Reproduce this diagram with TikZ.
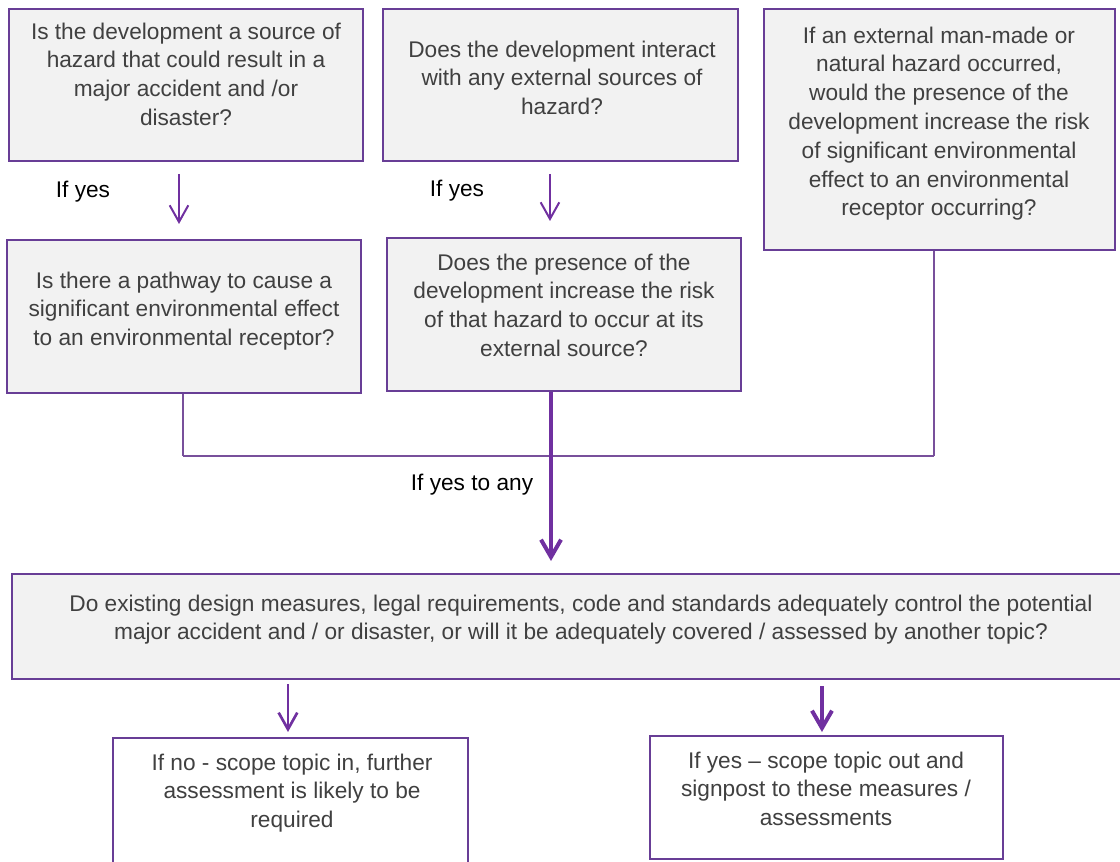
\documentclass[tikz,border=0pt]{standalone}
\usepackage{fontspec}
\setmainfont{Liberation Sans}
\usetikzlibrary{arrows.meta}
\definecolor{boxborder}{RGB}{104,62,150}
\definecolor{arrowcol}{RGB}{112,48,160}
\definecolor{boxfill}{RGB}{242,242,242}
\definecolor{txt}{RGB}{64,64,64}
\definecolor{joincol}{RGB}{120,80,155}
\begin{document}
\begin{tikzpicture}[x=0.75pt,y=-0.75pt,
  qbox/.style={draw=boxborder, line width=1.5pt, fill=boxfill, rectangle, inner sep=0pt},
  abox/.style={draw=boxborder, line width=1.5pt, fill=white, rectangle, inner sep=0pt},
  qtext/.style={anchor=north, align=center, inner sep=0pt, text=txt, font=\fontsize{17}{21.6}\selectfont},
  lbl/.style={anchor=base, inner sep=0pt, text=black, font=\fontsize{17}{20}\selectfont},
  arr/.style={draw=arrowcol, line width=1.5pt, -{Straight Barb[length=12.5pt,width=14pt]}},
  bigarr/.style={draw=arrowcol, line width=3pt, -{Straight Barb[length=13pt,width=15pt]}},
  joinline/.style={draw=joincol, line width=1pt}
]
\useasboundingbox (0,0) rectangle (1120,862);

% question boxes
\node[qbox, minimum width=265.5pt, minimum height=114pt] (b1) at (186,85) {};
\node[qbox, minimum width=266.25pt, minimum height=114pt] (b2) at (560.5,85) {};
\node[qbox, minimum width=263.25pt, minimum height=180.75pt] (b3) at (939.5,129.5) {};
\node[qbox, minimum width=265.5pt, minimum height=114.75pt] (b4) at (183.5,316.5) {};
\node[qbox, minimum width=265.5pt, minimum height=114.75pt] (b5) at (564,314.5) {};
\node[qbox, minimum width=834pt, minimum height=78.75pt] (big) at (568,626.5) {};
\node[abox, minimum width=266.25pt, minimum height=97.5pt] (bl) at (290.5,803) {};
\node[abox, minimum width=264.75pt, minimum height=92.25pt] (br) at (826.5,797.5) {};

% texts
\node[qtext] (t1) at (186,22.5) {Is the development a source of\\hazard that could result in a\\major accident and /or\\disaster?};
\node[qtext] (t2) at (562,40.5) {Does the development interact\\with any external sources of\\hazard?};
\node[qtext] (t3) at (939,26.5) {If an external man-made or\\natural hazard occurred,\\would the presence of the\\development increase the risk\\of significant environmental\\effect to an environmental\\receptor occurring?};
\node[qtext] (t4) at (184,271.5) {Is there a pathway to cause a\\significant environmental effect\\to an environmental receptor?};
\node[qtext] (t5) at (564,253.5) {Does the presence of the\\development increase the risk\\of that hazard to occur at its\\external source?};
\node[qtext] (t6) at (581,594.5) {Do existing design measures, legal requirements, code and standards adequately control the potential\\major accident and / or disaster, or will it be adequately covered / assessed by another topic?};
\node[qtext] (t7) at (292,753.5) {If no - scope topic in, further\\assessment is likely to be\\required};
\node[qtext] (t8) at (826,751.5) {If yes – scope topic out and\\signpost to these measures /\\assessments};

% labels
\node[lbl] (l1) at (83,198) {If yes};
\node[lbl] (l2) at (457,197) {If yes};
\node[lbl] (l3) at (472,490) {If yes to any};

% junction lines
\coordinate (jl) at (183,456);
\coordinate (jr) at (934,456);
\draw[joinline, line width=1.5pt] (b4.south -| jl) -- (jl);
\draw[joinline] (jl) -- (jr);
\draw[joinline, line width=1.2pt] (jr) -- (jr |- b3.south);

% arrows
\draw[arr, shorten <=9pt, shorten >=11.25pt] ([xshift=-5.25pt]b1.south) -- ([xshift=-5.25pt]b1.south |- b4.north);
\draw[arr, shorten <=9pt, shorten >=12pt] ([xshift=-7.9pt]b2.south) -- ([xshift=-7.9pt]b2.south |- b5.north);
\draw[bigarr, shorten >=9pt] ([xshift=-9.75pt]b5.south) -- ([xshift=-9.75pt]b5.south |- big.north);
\draw[arr, line width=2pt, shorten <=3pt, shorten >=3.75pt] ([xshift=-1.9pt]bl.north |- big.south) -- ([xshift=-1.9pt]bl.north);
\draw[bigarr, shorten <=4.5pt, shorten >=2.25pt] ([xshift=-3.4pt]br.north |- big.south) -- ([xshift=-3.4pt]br.north);
\end{tikzpicture}
\end{document}
